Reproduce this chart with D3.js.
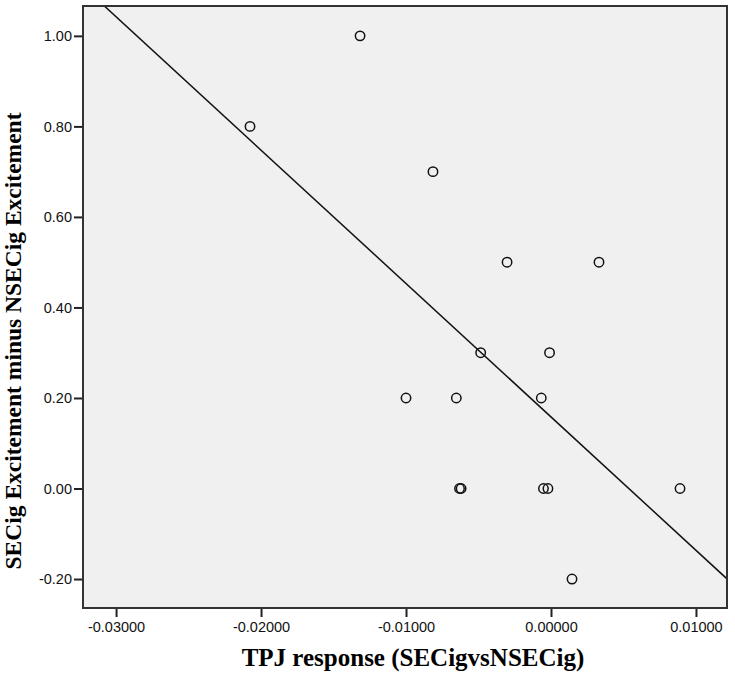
<html>
<head>
<meta charset="utf-8">
<title>TPJ scatter</title>
<script src="https://cdnjs.cloudflare.com/ajax/libs/d3/7.8.5/d3.min.js"></script>
<style>
  body { margin: 0; background: #fff; }
  .tick text { font-family: "Liberation Sans", Arial, sans-serif; font-size: 14.5px; fill: #111; }
  .axis-title { font-family: "Liberation Serif", "Times New Roman", serif; font-weight: bold; fill: #000; }
</style>
</head>
<body>
<div id="vis_container"></div>
<script>
// TPJ response (x) and excitement difference (y)
var tpj = [-0.02076, -0.01317, -0.00814, -0.00303, 0.00331, -0.00485, -0.00010, -0.01000,
           -0.00653, -0.00067, -0.00631, -0.00620, -0.00052, -0.00021, 0.00890, 0.00145];
var excitement = [0.80, 1.00, 0.70, 0.50, 0.50, 0.30, 0.30, 0.20,
                  0.20, 0.20, 0.00, 0.00, 0.00, 0.00, 0.00, -0.20];
var xTicks = [-0.03, -0.02, -0.01, 0.00, 0.01];
var yTicks = [-0.20, 0.00, 0.20, 0.40, 0.60, 0.80, 1.00];
var xTitle = "TPJ response (SECigvsNSECig)";
var yTitle = "SECig Excitement minus NSECig Excitement";

var width = 735, height = 680;
var plotLeft = 83, plotRight = 727, plotTop = 6, plotBottom = 608;

var svg = d3.select("#vis_container").append("svg")
    .attr("width", width).attr("height", height);

var x = d3.scaleLinear().domain([-0.03228, 0.01214]).range([plotLeft, plotRight]);
var y = d3.scaleLinear().domain([-0.264, 1.066]).range([plotBottom, plotTop]);

// hyphen instead of unicode minus, like the original
function fmt(spec) {
  var f = d3.format(spec);
  return function(d) { return f(d).replace("\u2212", "-"); };
}

// plot background
svg.append("rect")
    .attr("x", plotLeft).attr("y", plotTop)
    .attr("width", plotRight - plotLeft).attr("height", plotBottom - plotTop)
    .style("fill", "#f0f0f0");

// least squares fit line
var mx = d3.mean(tpj), my = d3.mean(excitement);
var sxy = d3.sum(tpj, function(d, i) { return (d - mx) * (excitement[i] - my); });
var sxx = d3.sum(tpj, function(d) { return (d - mx) * (d - mx); });
var slope = sxy / sxx, intercept = my - slope * mx;

svg.append("clipPath").attr("id", "clip")
  .append("rect")
    .attr("x", plotLeft).attr("y", plotTop)
    .attr("width", plotRight - plotLeft).attr("height", plotBottom - plotTop);

var x0 = x.domain()[0] - 0.01, x1 = x.domain()[1] + 0.01;
svg.append("line")
    .attr("clip-path", "url(#clip)")
    .attr("x1", x(x0)).attr("y1", y(intercept + slope * x0))
    .attr("x2", x(x1)).attr("y2", y(intercept + slope * x1))
    .style("stroke", "#111").style("stroke-width", 1.5);

// points
svg.append("g").selectAll("circle").data(tpj)
  .enter().append("circle")
    .attr("cx", function(d) { return x(d); })
    .attr("cy", function(d, i) { return y(excitement[i]); })
    .attr("r", 4.7)
    .style("fill", "none")
    .style("stroke", "#111")
    .style("stroke-width", 1.5);

// frame
svg.append("rect")
    .attr("x", plotLeft).attr("y", plotTop)
    .attr("width", plotRight - plotLeft).attr("height", plotBottom - plotTop)
    .style("fill", "none").style("stroke", "#333").style("stroke-width", 2);

// axes
var xAxis = svg.append("g")
    .attr("transform", "translate(0," + (plotBottom + 1) + ")")
    .call(d3.axisBottom(x).tickValues(xTicks).tickFormat(fmt(".5f")).tickSize(8).tickPadding(5));
var yAxis = svg.append("g")
    .attr("transform", "translate(" + (plotLeft - 1) + ",0)")
    .call(d3.axisLeft(y).tickValues(yTicks).tickFormat(fmt(".2f")).tickSize(8).tickPadding(2));

[xAxis, yAxis].forEach(function(a) {
  a.select(".domain").remove();
  a.selectAll(".tick line").style("stroke", "#222").style("stroke-width", 2);
});

svg.append("text")
    .attr("class", "axis-title")
    .attr("x", 413).attr("y", 666)
    .attr("text-anchor", "middle")
    .style("font-size", "25px")
    .text(xTitle);

svg.append("text")
    .attr("class", "axis-title")
    .attr("transform", "translate(21,341) rotate(-90)")
    .attr("text-anchor", "middle")
    .style("font-size", "23.5px")
    .text(yTitle);
</script>
</body>
</html>
